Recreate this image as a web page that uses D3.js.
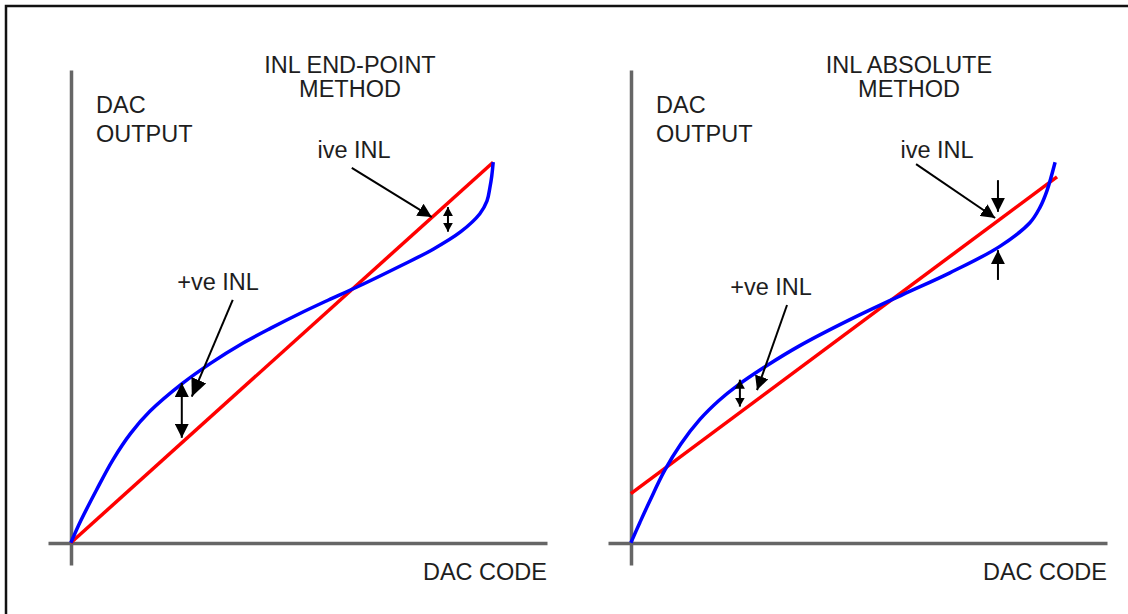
<!DOCTYPE html>
<html>
<head>
<meta charset="utf-8">
<script src="https://cdn.jsdelivr.net/npm/d3@7"></script>
<style>
  body { margin: 0; background: #fff; }
  text { font-family: "Liberation Sans", Arial, sans-serif; fill: #1e1e1e; font-size: 23.5px; }
</style>
</head>
<body>
<svg id="viz" width="1128" height="614"></svg>
<script>
// units: % of full scale (x = DAC code, y = DAC output)

// end-point method
const ep_blue_code = [0, 2.1, 5.3, 8.8, 12.6, 16.6, 23.3, 29.4, 36.1, 42.0, 48.1, 54.0, 60.1, 69.3, 76.1, 81.9, 85.9, 87.4, 88.0, 88.4, 88.7]
const ep_blue_out  = [0, 4.7, 11.0, 17.5, 23.2, 27.8, 33.6, 38.0, 42.2, 45.4, 48.5, 51.3, 54.1, 58.6, 62.1, 65.8, 69.6, 72.3, 75.1, 77.6, 80.5]
const ep_red_code = [0, 88.7]
const ep_red_out  = [0, 80.5]
// arrows: [x1, y1, x2, y2] (second point is the tip)
const ep_arrows = [[59.0, 79.3, 75.8, 68.9], [34.0, 51.4, 25.4, 30.9]]
// double arrows: [x, y1, y2]
const ep_double = [[79.2, 65.8, 71.0], [23.3, 22.2, 33.8]]

// absolute method
const ab_blue_code = [0, 1.9, 4.0, 7.1, 10.5, 14.5, 18.5, 22.3, 28.6, 35.5, 46.0, 57.1, 67.0, 77.5, 83.8, 85.9, 87.4, 89.1]
const ab_blue_out  = [0, 4.3, 8.9, 15.3, 20.9, 26.1, 30.1, 33.2, 37.5, 41.7, 47.2, 52.5, 57.1, 62.7, 67.7, 70.9, 74.5, 80.5]
const ab_red_code = [0, 89.5]
const ab_red_out  = [10.4, 77.4]
const ab_arrows = [[59.9, 80.1, 76.5, 68.7], [32.8, 50.3, 26.5, 32.3], [77.1, 76.7, 77.1, 70.0], [77.1, 55.6, 77.1, 61.9]]
const ab_double = [[22.9, 28.8, 34.5]]

const svg = d3.select("svg#viz")

// outer frame
svg.append("rect").attr("x", 6).attr("y", 6).attr("width", 1140).attr("height", 630)
    .attr("fill", "none").attr("stroke", "#111").attr("stroke-width", 2.5)

const defs = svg.append("defs")
function marker(id, len, wid) {
    defs.append("marker").attr("id", id)
        .attr("markerUnits", "userSpaceOnUse")
        .attr("viewBox", `0 ${-wid/2} ${len} ${wid}`)
        .attr("refX", len).attr("refY", 0)
        .attr("markerWidth", len).attr("markerHeight", wid)
        .attr("orient", "auto-start-reverse")
        .append("path").attr("d", `M0,${-wid/2}L${len},0L0,${wid/2}Z`).attr("fill", "#000")
}
marker("headBig", 18, 16)
marker("headMid", 14, 14)
marker("headSmall", 9, 10)

const x = d3.scaleLinear().domain([-4.8, 100]).range([-23, 476])
const y = d3.scaleLinear().domain([-4.7, 100]).range([22, -473])

function panel(ox, lab, blue_c, blue_o, red_c, red_o, arrows, heads, doubles, dheads) {
    const g = svg.append("g").attr("transform", `translate(${ox}, 543)`)

    // axes without ticks
    g.append("g").call(d3.axisBottom(x).tickValues([]).tickSizeOuter(0))
    g.append("g").call(d3.axisLeft(y).tickValues([]).tickSizeOuter(0))
    g.selectAll(".domain").attr("stroke", "#666").attr("stroke-width", 3.5)

    g.append("path").datum(d3.zip(red_c, red_o))
        .attr("d", d3.line().x(d => x(d[0])).y(d => y(d[1])))
        .attr("fill", "none").attr("stroke", "#ff0000").attr("stroke-width", 3.5)

    g.append("path").datum(d3.zip(blue_c, blue_o))
        .attr("d", d3.line().x(d => x(d[0])).y(d => y(d[1])).curve(d3.curveCatmullRom.alpha(0.5)))
        .attr("fill", "none").attr("stroke", "#0000ff").attr("stroke-width", 3.5)

    g.selectAll("line.arrow").data(arrows).join("line").attr("class", "arrow")
        .attr("x1", d => x(d[0])).attr("y1", d => y(d[1]))
        .attr("x2", d => x(d[2])).attr("y2", d => y(d[3]))
        .attr("stroke", "#000").attr("stroke-width", 2)
        .attr("marker-end", (d, i) => `url(#${heads[i]})`)

    g.selectAll("line.dbl").data(doubles).join("line").attr("class", "dbl")
        .attr("x1", d => x(d[0])).attr("y1", d => y(d[1]))
        .attr("x2", d => x(d[0])).attr("y2", d => y(d[2]))
        .attr("stroke", "#000").attr("stroke-width", 2)
        .attr("marker-start", (d, i) => `url(#${dheads[i]})`)
        .attr("marker-end", (d, i) => `url(#${dheads[i]})`)

    // labels
    const t = g.append("text").attr("text-anchor", "middle")
    t.append("tspan").attr("x", lab.cx).attr("y", -470).text(lab.l1)
    t.append("tspan").attr("x", lab.cx).attr("y", -446).text("METHOD")
    const yl = g.append("text")
    yl.append("tspan").attr("x", 25).attr("y", -430).text("DAC")
    yl.append("tspan").attr("x", 25).attr("y", -401).text("OUTPUT")
    g.append("text").attr("text-anchor", "end").attr("x", 476).attr("y", 37).text("DAC CODE")
    g.append("text").attr("text-anchor", "middle").attr("x", lab.ive[0]).attr("y", lab.ive[1]).text("ive INL")
    g.append("text").attr("text-anchor", "middle").attr("x", lab.pve[0]).attr("y", lab.pve[1]).text("+ve INL")
}

panel(71, {cx: 279, l1: "INL END-POINT", ive: [283, -385], pve: [147, -253]},
    ep_blue_code, ep_blue_out, ep_red_code, ep_red_out,
    ep_arrows, ["headMid", "headBig"], ep_double, ["headSmall", "headMid"])
panel(631, {cx: 278, l1: "INL ABSOLUTE", ive: [306, -385], pve: [140, -248]},
    ab_blue_code, ab_blue_out, ab_red_code, ab_red_out,
    ab_arrows, ["headMid", "headMid", "headMid", "headMid"], ab_double, ["headSmall"])
</script>
</body>
</html>
